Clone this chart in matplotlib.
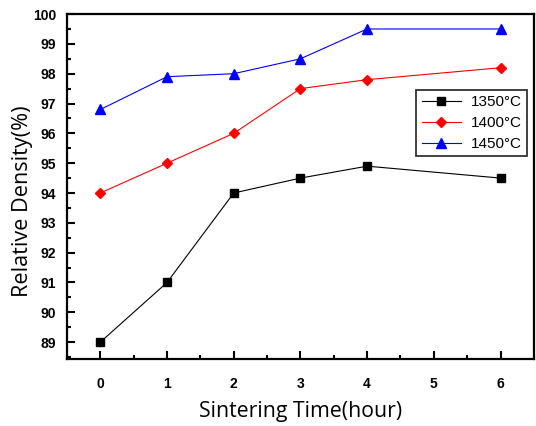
import numpy as np
import matplotlib.pyplot as plt

# sintering time (hour)
hours = [0, 1, 2, 3, 4, 6]
d1350 = [89.0, 91.0, 94.0, 94.5, 94.9, 94.5]
d1400 = [94.0, 95.0, 96.0, 97.5, 97.8, 98.2]
d1450 = [96.8, 97.9, 98.0, 98.5, 99.5, 99.5]

fig = plt.figure(figsize=(5.36, 4.26), dpi=100)
ax = fig.add_axes([0.125, 0.157, 0.871, 0.81])

ax.plot(hours, d1350, 's-', color='black', lw=0.8, ms=6, label='1350\u00b0C')
ax.plot(hours, d1400, 'D-', color='red', lw=0.8, ms=5, label='1400\u00b0C')
ax.plot(hours, d1450, '^-', color='blue', lw=0.8, ms=7, label='1450\u00b0C')

ax.set_xlim(-0.5, 6.5)
ax.set_ylim(88.43, 100)
ax.set_xticks(range(0, 7))
ax.set_xticks(np.arange(-0.5, 6.6, 0.5), minor=True)
ax.set_yticks(range(89, 101))
ax.set_yticks(np.arange(88.5, 100.01, 0.5), minor=True)
ax.tick_params(which='both', direction='in', width=1.5, top=False, right=False)
ax.tick_params(which='major', length=6, pad=8)
ax.tick_params(axis='x', which='major', pad=13)
ax.tick_params(which='minor', length=3)
for lab in ax.get_xticklabels() + ax.get_yticklabels():
    lab.set_fontfamily('Liberation Sans')
    lab.set_fontweight('bold')
    lab.set_fontsize(10)
for sp in ax.spines.values():
    sp.set_linewidth(1.6)

ax.set_xlabel('Sintering Time(hour)', fontsize=15.3, family='Open Sans', labelpad=7)
ax.set_ylabel('Relative Density(%)', fontsize=15.6, family='Open Sans')
ax.yaxis.set_label_coords(-0.073, 0.458)

leg = ax.legend(loc='upper right', bbox_to_anchor=(0.985, 0.78), borderaxespad=0,
                prop={'family': 'Liberation Sans', 'size': 11},
                fancybox=False, framealpha=1, edgecolor='#333333',
                handlelength=2.6, borderpad=0.35, labelspacing=0.45,
                handletextpad=0.6)
leg.get_frame().set_linewidth(1.3)

fig.savefig('out.png', dpi=100)
